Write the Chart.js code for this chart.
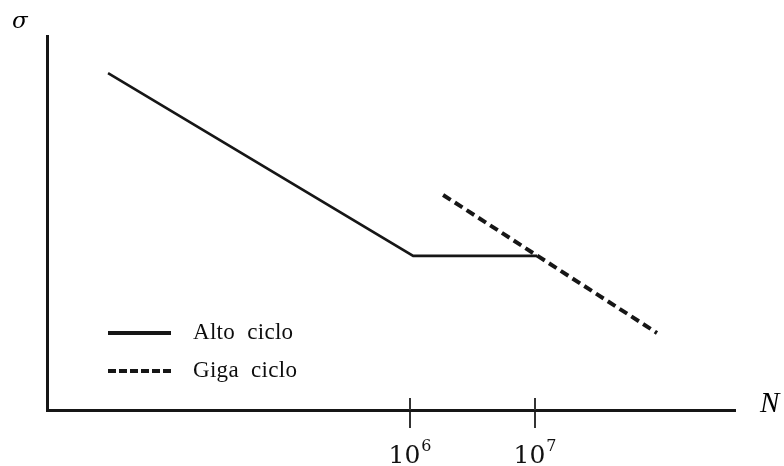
<!DOCTYPE html>
<html>
<head>
<meta charset="utf-8">
<script src="https://cdn.jsdelivr.net/npm/chart.js@4.4.1/dist/chart.umd.min.js"></script>
<style>
html,body{margin:0;padding:0;background:#fff;}
#wrap{width:784px;height:466px;position:relative;}
</style>
</head>
<body>
<div id="wrap"><canvas id="c" width="784" height="466"></canvas></div>
<script>
// ---- data (cycles N, stress sigma in arbitrary units) ----
const seriesNames = ['Alto ciclo', 'Giga ciclo'];
const altoN = [3840, 1.06e6, 1.04e7];
const altoS = [90.1, 41.2, 41.2];
const gigaN = [1.84e6, 9.46e7];
const gigaS = [57.5, 20.6];
const tickValues = [1e6, 1e7];
const tickBase = ['10', '10'];
const tickExp = ['6', '7'];
const axisTitleX = 'N';
const axisTitleY = '\u03C3';

const xMin = Math.pow(10, 3.096);
const xMax = Math.pow(10, 8.6);

const toPts = (xs, ys) => xs.map((x, i) => ({x: x, y: ys[i]}));

const INK = '#161616';

const decor = {
  id: 'decor',
  afterDraw(chart) {
    const ctx = chart.ctx;
    const xs = chart.scales.x, ys = chart.scales.y;
    const axisY = ys.getPixelForValue(0);
    ctx.save();
    // upper part of tick marks (crossing the axis)
    ctx.strokeStyle = '#333';
    ctx.lineWidth = 2;
    tickValues.forEach(v => {
      const px = Math.round(xs.getPixelForValue(v));
      ctx.beginPath();
      ctx.moveTo(px, axisY - 12);
      ctx.lineTo(px, axisY);
      ctx.stroke();
    });
    // tick labels with superscript exponents
    ctx.fillStyle = '#111';
    ctx.textBaseline = 'alphabetic';
    ctx.textAlign = 'left';
    tickValues.forEach((v, i) => {
      const px = xs.getPixelForValue(v);
      ctx.font = '25px "DejaVu Serif", serif';
      const wb = ctx.measureText(tickBase[i]).width;
      ctx.font = '16px "DejaVu Serif", serif';
      const we = ctx.measureText(tickExp[i]).width;
      const x0 = px - (wb + we + 1) / 2;
      ctx.font = '25px "DejaVu Serif", serif';
      ctx.fillText(tickBase[i], x0, 463);
      ctx.font = '16px "DejaVu Serif", serif';
      ctx.fillText(tickExp[i], x0 + wb + 1, 451);
    });
    // axis symbols
    ctx.fillStyle = '#000';
    ctx.font = 'italic 23px "DejaVu Serif", serif';
    ctx.fillText(axisTitleY, 12, 28);
    ctx.font = 'italic 29px "Liberation Serif", "DejaVu Serif", serif';
    ctx.fillText(axisTitleX, 760, 412);
    // legend
    const items = chart.data.datasets;
    const rows = [333, 371];
    items.forEach((ds, i) => {
      const y = rows[i];
      ctx.strokeStyle = ds.borderColor;
      ctx.lineWidth = 4;
      ctx.setLineDash(ds.borderDash && ds.borderDash.length ? [8, 3] : []);
      ctx.beginPath();
      ctx.moveTo(108, y);
      ctx.lineTo(171, y);
      ctx.stroke();
      ctx.setLineDash([]);
      ctx.fillStyle = '#0d0d0d';
      ctx.font = '23px "Liberation Serif", "Times New Roman", serif';
      ctx.textBaseline = 'middle';
      try { ctx.letterSpacing = '0.3px'; } catch (e) {}
      ctx.fillText(ds.label.replace(' ', '  '), 193, y);
      try { ctx.letterSpacing = '0px'; } catch (e) {}
    });
    ctx.restore();
  }
};

new Chart(document.getElementById('c'), {
  type: 'line',
  data: {
    datasets: [
      {
        label: seriesNames[0],
        data: toPts(altoN, altoS),
        borderColor: INK,
        borderWidth: 2.6,
        pointRadius: 0,
        fill: false,
        tension: 0
      },
      {
        label: seriesNames[1],
        data: toPts(gigaN, gigaS),
        borderColor: INK,
        borderWidth: 4,
        borderDash: [9, 5],
        pointRadius: 0,
        fill: false,
        tension: 0
      }
    ]
  },
  options: {
    responsive: false,
    animation: false,
    events: [],
    layout: { padding: { left: 47, right: 49, top: 36, bottom: 0 } },
    plugins: { legend: { display: false }, tooltip: { enabled: false }, title: { display: false } },
    scales: {
      x: {
        type: 'logarithmic',
        min: xMin,
        max: xMax,
        afterBuildTicks(scale) {
          scale.ticks = tickValues.map(v => ({ value: v }));
        },
        afterFit(scale) { scale.height = 56; },
        border: { display: true, color: INK, width: 3 },
        grid: { display: true, drawOnChartArea: false, drawTicks: true, tickLength: 18, color: '#333', lineWidth: 2 },
        ticks: { display: false, autoSkip: false }
      },
      y: {
        type: 'linear',
        min: 0,
        max: 100,
        afterFit(scale) { scale.width = 0; },
        border: { display: true, color: INK, width: 3 },
        grid: { display: false },
        ticks: { display: false }
      }
    }
  },
  plugins: [decor]
});
</script>
</body>
</html>
